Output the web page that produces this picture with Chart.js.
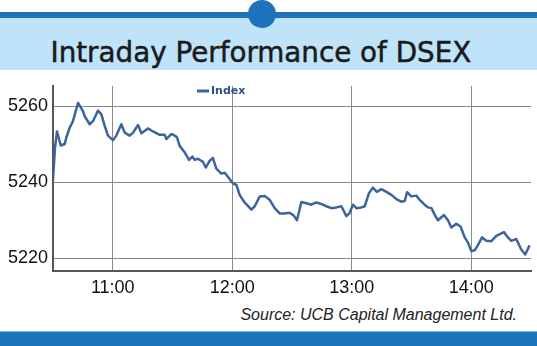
<!DOCTYPE html>
<html>
<head>
<meta charset="utf-8">
<script src="https://cdn.jsdelivr.net/npm/chart.js@4.4.0/dist/chart.umd.min.js"></script>
<style>
  html, body { margin: 0; padding: 0; background: #fff; }
  #wrap { position: relative; width: 537px; height: 346px; overflow: hidden; background: #fff; }
  .topline { position: absolute; left: 0; top: 12px; width: 537px; height: 6px; background: #1f73ba; }
  .band { position: absolute; left: 0; top: 18px; width: 537px; height: 52px; background: #bfe3f8; }
  .dot { position: absolute; left: 248px; top: 0; width: 28px; height: 28px; border-radius: 50%; background: #1f73ba; }
  .title { position: absolute; left: 0; width: 522px; top: 38px; text-align: center; font-family: "DejaVu Sans", sans-serif; font-size: 29px; line-height: 29px; color: #1a1a1a; -webkit-text-stroke: 0.5px #1a1a1a; }
  .title span { display: inline-block; transform: scaleX(0.957); }
  .source { position: absolute; right: 20px; top: 307px; font-family: "Liberation Sans", Arial, sans-serif; font-style: italic; font-size: 16px; line-height: 16px; color: #222; }
  .bottombar { position: absolute; left: 0; top: 331px; width: 537px; height: 15px; background: #1c74bb; border-top: 1px solid #7db9e3; }
  #chart { position: absolute; left: 0; top: 70px; }
</style>
</head>
<body>
<div id="wrap">
  <div class="topline"></div>
  <div class="band"></div>
  <div class="dot"></div>
  <div class="title"><span>Intraday Performance of DSEX</span></div>
  <canvas id="chart" width="537" height="230"></canvas>
  <div class="source">Source: UCB Capital Management Ltd.</div>
  <div class="bottombar"></div>
</div>
<script>
// time in minutes after midnight
var times = [630.0, 631.0, 632.0, 633.9, 635.9, 636.7, 638.4, 640.0, 642.6, 645.1, 645.9, 648.4, 650.1, 652.6, 654.3, 656.0,
  657.6, 660.1, 661.8, 664.3, 666.0, 668.5, 670.2, 672.7, 674.4, 677.7, 680.2, 683.6, 686.1, 686.9, 689.4, 690.2,
  692.2, 693.6, 696.1, 698.3, 700.0, 701.1, 702.8, 705.3, 706.7, 708.7, 710.3, 712.0, 714.5, 716.2, 717.9, 720.4,
  722.1, 723.7, 726.2, 729.6, 731.3, 733.8, 736.3, 738.8, 741.3, 743.8, 746.3, 748.8, 750.8, 752.5, 754.7, 757.2,
  759.7, 762.2, 764.7, 767.2, 769.8, 772.3, 774.8, 777.3, 778.9, 780.6, 782.3, 784.8, 786.5, 788.6, 790.6, 792.6,
  794.9, 797.4, 799.9, 802.4, 804.9, 806.6, 807.8, 809.9, 812.4, 814.1, 816.6, 818.3, 820.0, 821.6, 823.3, 826.3,
  828.3, 830.0, 832.5, 834.7, 836.7, 838.3, 840.0, 841.7, 843.3, 845.4, 847.6, 850.1, 852.6, 856.4, 858.4, 860.1,
  862.6, 865.1, 867.1, 869.3];
var indexValues = [5240.8, 5249.0, 5253.4, 5249.7, 5250.1, 5251.8, 5254.4, 5256.1, 5260.9, 5258.7, 5257.4, 5255.3, 5256.1, 5258.9, 5257.9, 5254.8,
  5252.3, 5251.1, 5252.3, 5255.3, 5253.1, 5252.3, 5253.1, 5255.1, 5252.9, 5254.2, 5253.4, 5252.5, 5252.5, 5251.4, 5252.7, 5252.6,
  5251.9, 5249.6, 5247.9, 5245.9, 5246.8, 5245.9, 5246.2, 5245.4, 5243.9, 5245.7, 5246.4, 5243.6, 5242.3, 5242.5, 5241.4, 5239.7,
  5239.3, 5236.7, 5234.7, 5232.8, 5233.7, 5236.3, 5236.4, 5235.4, 5233.2, 5231.8, 5231.8, 5232.0, 5231.3, 5230.0, 5234.8, 5234.5,
  5234.1, 5234.7, 5234.3, 5233.7, 5233.2, 5233.4, 5233.7, 5231.1, 5231.9, 5234.1, 5233.2, 5233.4, 5233.7, 5237.1, 5238.6, 5237.5,
  5238.2, 5237.5, 5236.7, 5235.6, 5234.9, 5235.1, 5237.4, 5236.3, 5236.5, 5235.4, 5234.1, 5233.4, 5233.2, 5231.5, 5230.0, 5231.4,
  5230.0, 5228.1, 5229.1, 5228.3, 5225.5, 5224.2, 5221.9, 5222.1, 5223.4, 5225.5, 5224.6, 5224.5, 5225.9, 5226.9, 5225.5, 5224.6,
  5225.1, 5222.3, 5221.0, 5223.4];
var xTicks = [660, 720, 780, 840];
var yTicks = [5220, 5240, 5260];
var seriesName = 'Index';

var lineColor = '#3c659f';
var tickFont = { family: '"Liberation Sans", Arial, sans-serif', size: 18 };

var points = [];
for (var i = 0; i < times.length; i++) {
    points.push({ x: times[i], y: indexValues[i] });
}

function hhmm(v) {
    var h = Math.floor(v / 60), m = Math.round(v % 60);
    return h + ':' + (m < 10 ? '0' + m : m);
}

// little legend in the upper plot area
var legendPlugin = {
    id: 'smallLegend',
    afterDraw: function(chart) {
        var ctx = chart.ctx;
        ctx.save();
        ctx.strokeStyle = lineColor;
        ctx.lineWidth = 3;
        ctx.beginPath();
        ctx.moveTo(197, 21);
        ctx.lineTo(209, 21);
        ctx.stroke();
        ctx.fillStyle = '#2e4f88';
        ctx.font = 'bold 11px "DejaVu Sans", sans-serif';
        ctx.textBaseline = 'middle';
        ctx.fillText(chart.data.datasets[0].label, 211, 21);
        ctx.restore();
    }
};

var ctx = document.getElementById('chart').getContext('2d');
var myChart = new Chart(ctx, {
    type: 'line',
    data: {
        datasets: [{
            label: seriesName,
            data: points,
            borderColor: lineColor,
            borderWidth: 2.5,
            pointRadius: 0,
            tension: 0,
            borderJoinStyle: 'round',
            fill: false
        }]
    },
    options: {
        responsive: false,
        animation: false,
        devicePixelRatio: 1,
        layout: { padding: { top: 12, right: 6, left: 0, bottom: 0 } },
        plugins: { legend: { display: false }, tooltip: { enabled: false } },
        scales: {
            x: {
                type: 'linear',
                min: 630,
                max: 870,
                afterBuildTicks: function(scale) {
                    scale.ticks = xTicks.map(function(v) { return { value: v }; });
                },
                afterFit: function(scale) { scale.height = 29; },
                ticks: {
                    callback: function(v) { return hhmm(v); },
                    font: tickFont,
                    color: '#111',
                    padding: 6,
                    maxRotation: 0
                },
                grid: { color: '#8a8a8a', lineWidth: 1, drawTicks: false },
                border: { color: '#555', width: 2 }
            },
            y: {
                min: 5216.65,
                max: 5265.42,
                afterBuildTicks: function(scale) {
                    scale.ticks = yTicks.map(function(v) { return { value: v }; });
                },
                afterFit: function(scale) { scale.width = 53; },
                ticks: {
                    callback: function(v) { return String(v); },
                    font: tickFont,
                    color: '#111',
                    padding: 5
                },
                grid: { color: '#8a8a8a', lineWidth: 1, drawTicks: false },
                border: { color: '#555', width: 2 }
            }
        }
    },
    plugins: [legendPlugin]
});
</script>
</body>
</html>
